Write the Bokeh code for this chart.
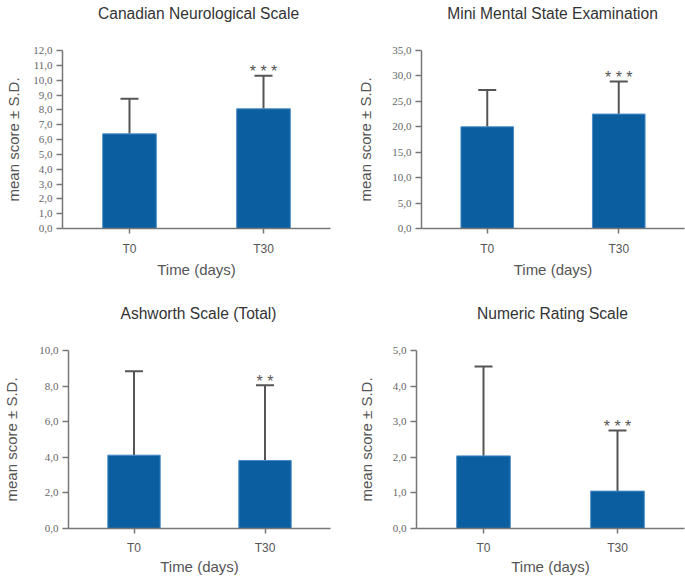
from bokeh.plotting import figure
from bokeh.models import ColumnDataSource, Whisker, TeeHead, FixedTicker, FactorRange, Range1d
from bokeh.layouts import column, row
from bokeh.core.properties import value
from bokeh.embed import file_html
from bokeh.resources import INLINE

cats = ["T0", "T30"]

titles = ["Canadian Neurological Scale", "Mini Mental State Examination",
          "Ashworth Scale (Total)", "Numeric Rating Scale"]

cns_mean = [6.38, 8.07]
cns_sd = [2.36, 2.23]
cns_stars = ["", "* * *"]
cns_ticks = [0, 1, 2, 3, 4, 5, 6, 7, 8, 9, 10, 11, 12]
cns_labels = ["0,0", "1,0", "2,0", "3,0", "4,0", "5,0", "6,0", "7,0", "8,0", "9,0", "10,0", "11,0", "12,0"]

mmse_mean = [20.0, 22.5]
mmse_sd = [7.25, 6.4]
mmse_stars = ["", "* * *"]
mmse_ticks = [0, 5, 10, 15, 20, 25, 30, 35]
mmse_labels = ["0,0", "5,0", "10,0", "15,0", "20,0", "25,0", "30,0", "35,0"]

ash_mean = [4.12, 3.82]
ash_sd = [4.72, 4.23]
ash_stars = ["", "* *"]
ash_ticks = [0, 2, 4, 6, 8, 10]
ash_labels = ["0,0", "2,0", "4,0", "6,0", "8,0", "10,0"]

nrs_mean = [2.04, 1.05]
nrs_sd = [2.51, 1.70]
nrs_stars = ["", "* * *"]
nrs_ticks = [0, 1, 2, 3, 4, 5]
nrs_labels = ["0,0", "1,0", "2,0", "3,0", "4,0", "5,0"]

BAR = "#0b5fa0"
AX = "#777777"
FONT = "Liberation Sans"
NARROW = "Liberation Sans Narrow"
LEFT = 62
FRAME_W = 268
TOP = 8


def title_fig(text, width, height, baseline_from_top):
    t = figure(width=width, height=height, x_range=Range1d(0, width), y_range=Range1d(0, height),
               output_backend="svg", toolbar_location=None, min_border=0)
    t.axis.visible = False
    t.grid.visible = False
    t.outline_line_color = None
    src = ColumnDataSource(dict(x=[LEFT + FRAME_W / 2 + 2], y=[height - baseline_from_top], t=[text]))
    t.text(x="x", y="y", text="t", source=src, text_font=value(FONT),
           text_font_size="15.6px", text_color="#333333",
           text_align="center", text_baseline="alphabetic")
    return t


def make(means, sds, stars, ticks, labels, width, height, mbb, mbr,
         ylab_standoff, xlab_standoff, xlab_label_standoff):
    p = figure(x_range=FactorRange(*cats), y_range=Range1d(0, ticks[-1]),
               width=width, height=height, output_backend="svg", toolbar_location=None,
               min_border_left=LEFT, min_border_right=mbr, min_border_top=TOP, min_border_bottom=mbb)
    p.outline_line_color = None
    p.xgrid.grid_line_color = None
    p.ygrid.grid_line_color = None
    p.background_fill_color = "white"

    src = ColumnDataSource(dict(x=cats, top=means,
                                upper=[m + s for m, s in zip(means, sds)],
                                stars=stars))
    p.vbar(x="x", top="top", width=0.4, source=src, fill_color=BAR,
           line_color="#4a8cc6", line_width=1)
    w = Whisker(base="x", lower="top", upper="upper", source=src,
                line_color="#555555", line_width=2,
                upper_head=TeeHead(size=18, line_color="#555555", line_width=2),
                lower_head=None)
    p.add_layout(w)
    p.text(x="x", y="upper", text="stars", source=src, text_font=value(FONT),
           text_font_size="16px", text_color="#555555", text_align="center",
           text_baseline="alphabetic", y_offset=-4)

    for ax in (p.xaxis[0], p.yaxis[0]):
        ax.axis_line_color = AX
        ax.axis_line_width = 1.5
        ax.major_tick_line_color = AX
        ax.major_tick_line_width = 1.5
        ax.major_tick_in = 0
        ax.minor_tick_line_color = None
        ax.axis_label_text_font = FONT
        ax.axis_label_text_font_size = "15px"
        ax.axis_label_text_font_style = "normal"
        ax.axis_label_text_color = "#555555"

    xa = p.xaxis[0]
    xa.axis_label = "Time (days)"
    xa.major_tick_out = 5
    xa.major_label_standoff = xlab_label_standoff
    xa.major_label_text_font = FONT
    xa.major_label_text_font_size = "12px"
    xa.major_label_text_color = "#555555"
    xa.axis_label_standoff = xlab_standoff

    ya = p.yaxis[0]
    ya.axis_label = "mean score ± S.D."
    ya.ticker = FixedTicker(ticks=ticks)
    ya.major_label_overrides = {t: l for t, l in zip(ticks, labels)}
    ya.major_tick_out = 6
    ya.major_label_standoff = 4
    ya.major_label_text_font = NARROW
    ya.major_label_text_font_size = "11px"
    ya.major_label_text_color = "#666666"
    ya.axis_label_standoff = ylab_standoff
    return p


t1 = title_fig(titles[0], 354, 50 - TOP, 12.7)
t2 = title_fig(titles[1], 331, 50 - TOP, 12.7)
p1 = make(cns_mean, cns_sd, cns_stars, cns_ticks, cns_labels, 354, 234 + TOP, 56, 24, 8, 2, 8)
p2 = make(mmse_mean, mmse_sd, mmse_stars, mmse_ticks, mmse_labels, 331, 234 + TOP, 56, 1, 15, 2, 8)
t3 = title_fig(titles[2], 354, 66 - TOP, 29.3)
t4 = title_fig(titles[3], 331, 66 - TOP, 29.3)
p3 = make(ash_mean, ash_sd, ash_stars, ash_ticks, ash_labels, 354, 227 + TOP, 49, 24, 16, 0, 7)
p4 = make(nrs_mean, nrs_sd, nrs_stars, nrs_ticks, nrs_labels, 331, 227 + TOP, 49, 1, 15, 0, 7)

layout = column(row(t1, t2), row(p1, p2), row(t3, t4), row(p3, p4))
open("out.html", "w").write(file_html(layout, INLINE))
